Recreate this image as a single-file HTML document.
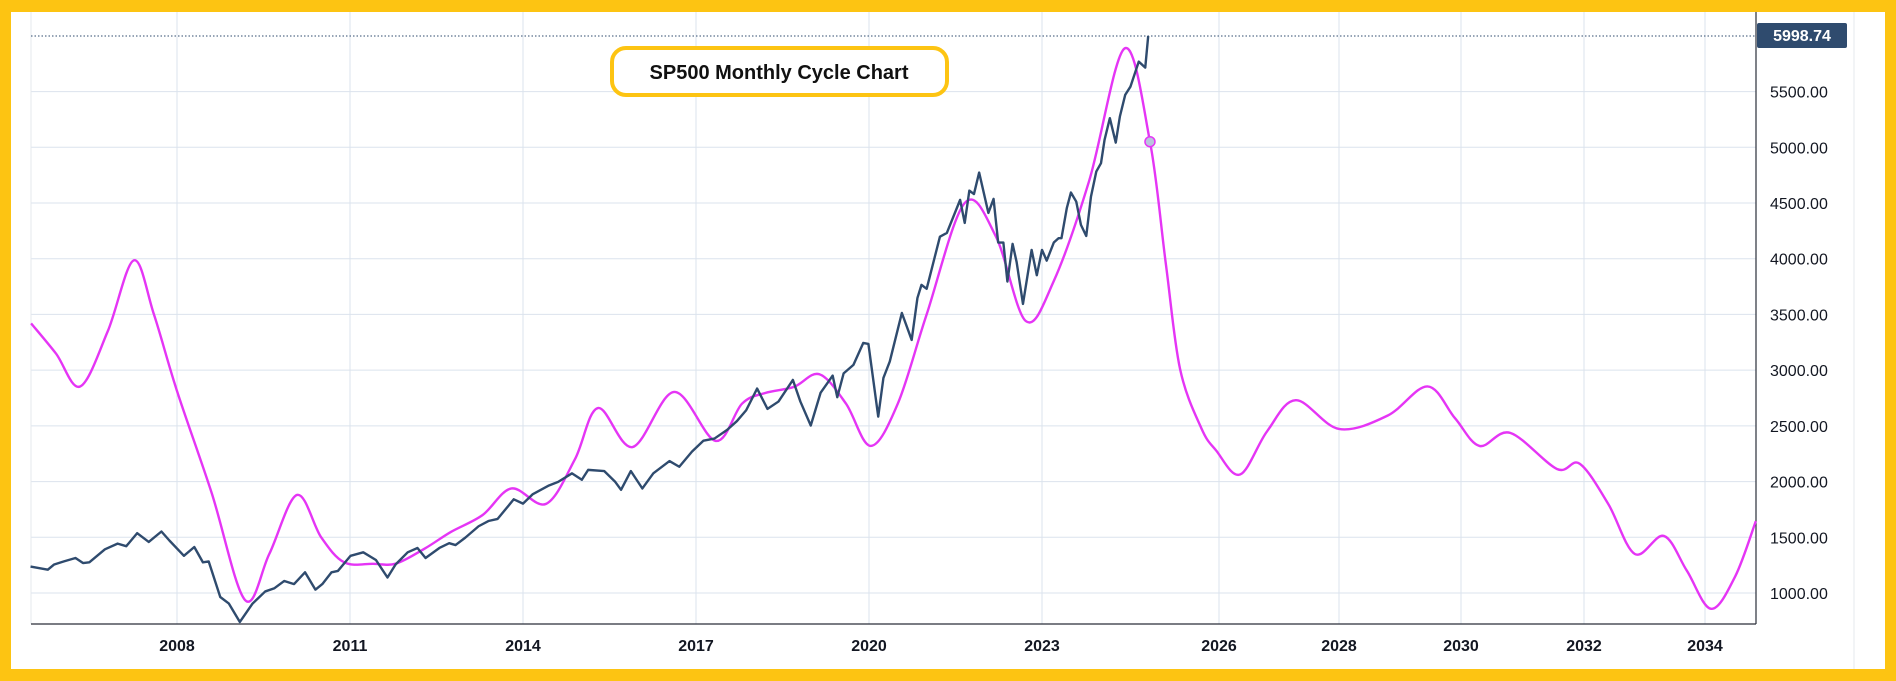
<!DOCTYPE html>
<html><head><meta charset="utf-8"><style>
html,body{margin:0;padding:0;}
body{width:1896px;height:681px;background:#fdc412;position:relative;overflow:hidden;font-family:"Liberation Sans",sans-serif;}
#panel{position:absolute;left:11px;top:12px;width:1874px;height:657px;background:#fff;}
svg{position:absolute;left:0;top:0;}
</style></head><body>
<div id="panel"></div>
<svg id="chart" width="1896" height="681"></svg>
<script>
const yTicks=[1000,1500,2000,2500,3000,3500,4000,4500,5000,5500];
const yearLabels=[2008,2011,2014,2017,2020,2023,2026,2028,2030,2032,2034];
const spxYears=[2005.46,2005.76,2005.87,2006.04,2006.24,2006.37,2006.48,2006.75,2006.97,2007.12,2007.31,2007.51,2007.73,2007.87,2008.12,2008.3,2008.45,2008.55,2008.75,2008.9,2009.09,2009.31,2009.53,2009.69,2009.86,2010.03,2010.22,2010.4,2010.52,2010.68,2010.79,2011.01,2011.23,2011.45,2011.65,2011.79,2012.0,2012.17,2012.31,2012.55,2012.72,2012.83,2013.0,2013.23,2013.4,2013.56,2013.84,2014.0,2014.17,2014.45,2014.61,2014.85,2015.02,2015.13,2015.41,2015.6,2015.7,2015.87,2016.07,2016.26,2016.54,2016.71,2016.93,2017.13,2017.32,2017.54,2017.71,2017.87,2018.06,2018.24,2018.43,2018.68,2018.81,2018.99,2019.16,2019.37,2019.45,2019.56,2019.73,2019.9,2019.99,2020.16,2020.25,2020.36,2020.57,2020.74,2020.84,2020.91,2021.0,2021.23,2021.35,2021.58,2021.66,2021.74,2021.82,2021.91,2022.07,2022.16,2022.24,2022.33,2022.4,2022.49,2022.56,2022.67,2022.82,2022.91,2023.0,2023.08,2023.2,2023.28,2023.33,2023.42,2023.49,2023.58,2023.66,2023.75,2023.83,2023.92,2024.0,2024.06,2024.15,2024.25,2024.32,2024.41,2024.5,2024.64,2024.75,2024.8];
const spxValues=[1237,1209,1256,1284,1314,1269,1275,1392,1443,1420,1537,1458,1552,1470,1334,1413,1275,1283,964,905,740,905,1014,1043,1108,1080,1186,1030,1080,1186,1198,1334,1365,1296,1139,1256,1365,1404,1314,1404,1447,1430,1497,1599,1646,1665,1841,1802,1887,1965,1997,2074,2016,2105,2094,1997,1926,2094,1938,2074,2184,2133,2269,2367,2386,2464,2543,2640,2835,2652,2718,2912,2718,2503,2796,2951,2757,2971,3047,3244,3235,2583,2930,3077,3513,3271,3648,3765,3730,4198,4231,4528,4321,4611,4580,4773,4411,4537,4145,4145,3795,4133,3970,3594,4079,3852,4079,3983,4145,4184,4184,4453,4594,4513,4304,4204,4557,4782,4857,5066,5261,5042,5276,5470,5545,5769,5715,5998.74];
const cycleYears=[2005.47,2005.9,2006.32,2006.8,2007.25,2007.6,2008.0,2008.6,2009.18,2009.6,2010.08,2010.5,2010.9,2011.4,2011.8,2012.3,2012.75,2013.3,2013.8,2014.4,2014.9,2015.3,2015.9,2016.62,2017.34,2017.8,2018.2,2018.7,2019.14,2019.6,2020.03,2020.5,2021.0,2021.66,2022.2,2022.72,2023.2,2023.8,2024.4,2024.83,2025.1,2025.34,2025.7,2025.95,2026.35,2026.8,2027.28,2028.0,2028.8,2029.45,2029.9,2030.3,2030.8,2031.56,2031.93,2032.4,2032.84,2033.32,2033.7,2034.1,2034.5,2034.84];
const cycleValues=[3420,3150,2853,3350,3985,3500,2813,1900,937,1350,1880,1500,1275,1262,1265,1400,1548,1700,1938,1800,2200,2660,2310,2804,2365,2700,2795,2850,2963,2700,2320,2700,3500,4500,4200,3440,3800,4700,5887,5050,3950,3010,2480,2280,2063,2450,2730,2472,2593,2854,2570,2320,2437,2113,2160,1800,1350,1512,1200,858,1150,1645];
const cycleDotYear=2024.83, cycleDotValue=5050;
const lastPrice=5998.74;

const NS='http://www.w3.org/2000/svg';
const svg=document.getElementById('chart');
const PL=31,PR=1756,PT=12,PB=624;
const ax=[2008,2011,2014,2017,2020,2023,2026,2028,2030,2032,2034];
const axPx=[177,350,523,696,869,1042,1219,1339,1461,1584,1705];
function xOf(yr){
  if(yr<=ax[0]) return axPx[0]+(yr-ax[0])*57.67;
  for(let i=0;i<ax.length-1;i++){ if(yr<=ax[i+1]) return axPx[i]+(yr-ax[i])/(ax[i+1]-ax[i])*(axPx[i+1]-axPx[i]); }
  const n=ax.length-1; return axPx[n]+(yr-ax[n])*60.5;
}
function yOf(v){return 593-(v-1000)*0.11143;}
function mk(tag,attrs,name,parent){const e=document.createElementNS(NS,tag);for(const k in attrs)e.setAttribute(k,attrs[k]);
  
  
  (parent||svg).appendChild(e);return e;}
yTicks.forEach(v=>{
  mk('line',{x1:PL,x2:PR,y1:yOf(v),y2:yOf(v),stroke:'#dbe3ed','stroke-width':1},'h-gridline');
  const t=mk('text',{x:1770,y:yOf(v)+6,'font-size':16,fill:'#131722','font-family':'Liberation Sans, sans-serif'},'y-tick-label');
  t.textContent=v.toFixed(2);
});
yearLabels.forEach(yr=>{
  const x=xOf(yr);
  mk('line',{x1:x,x2:x,y1:PT,y2:PB,stroke:'#dbe3ed','stroke-width':1},'v-gridline');
  const t=mk('text',{x:x,y:651,'font-size':16,'font-weight':'bold',fill:'#131722','text-anchor':'middle','font-family':'Liberation Sans, sans-serif'},'x-tick-label');
  t.textContent=yr;
});
mk('line',{x1:PL,x2:PL,y1:PT,y2:PB,stroke:'#e4e8ee','stroke-width':1},'left-edge');
mk('line',{x1:1854,x2:1854,y1:PT,y2:669,stroke:'#e4e8ee','stroke-width':1},'right-edge');
mk('line',{x1:PL,x2:PR,y1:PB,y2:PB,stroke:'#2a2e39','stroke-width':1.2},'x-axis-line');
mk('line',{x1:PR,x2:PR,y1:PT,y2:PB,stroke:'#2a2e39','stroke-width':1.2},'y-axis-line');
mk('line',{x1:PL,x2:PR,y1:yOf(lastPrice),y2:yOf(lastPrice),stroke:'#2f4b6e','stroke-width':1,'stroke-dasharray':'1.5 2'},'last-price-line');
(function(){
  const p=cycleYears.map((y,i)=>[xOf(y),yOf(cycleValues[i])]);
  let d='M'+p[0][0]+','+p[0][1];
  for(let i=0;i<p.length-1;i++){
    const p0=p[i-1]||p[i],p1=p[i],p2=p[i+1],p3=p[i+2]||p[i+1];
    const c1=[p1[0]+(p2[0]-p0[0])/6,p1[1]+(p2[1]-p0[1])/6];
    const c2=[p2[0]-(p3[0]-p1[0])/6,p2[1]-(p3[1]-p1[1])/6];
    d+=` C${c1[0]},${c1[1]} ${c2[0]},${c2[1]} ${p2[0]},${p2[1]}`;
  }
  mk('path',{d:d,fill:'none',stroke:'#e535f5','stroke-width':2.4},'cycle-line');
})();
mk('polyline',{points:spxYears.map((y,i)=>xOf(y)+','+yOf(spxValues[i])).join(' '),fill:'none',stroke:'#2f4b6e','stroke-width':2.4,'stroke-linejoin':'round'},'sp500-line');
mk('circle',{cx:xOf(cycleDotYear),cy:yOf(cycleDotValue),r:5,fill:'#b9c4dd',stroke:'#e535f5','stroke-width':1.5},'cycle-marker');
mk('rect',{x:1757,y:23,width:90,height:25,rx:2,fill:'#2f4b6e'},'last-price-badge');
const pt=mk('text',{x:1802,y:41,'font-size':16,'font-weight':'bold',fill:'#fff','text-anchor':'middle','font-family':'Liberation Sans, sans-serif'},'last-price-value');
pt.textContent=lastPrice.toFixed(2);
mk('rect',{x:612,y:48,width:335,height:47,rx:14,fill:'#fff',stroke:'#fdc412','stroke-width':4},'title-box');
const tt=mk('text',{x:779,y:79,'font-size':20,'font-weight':'bold',fill:'#111','text-anchor':'middle','font-family':'Liberation Sans, sans-serif'},'chart-title');
tt.textContent='SP500 Monthly Cycle Chart';
</script>
</body></html>
